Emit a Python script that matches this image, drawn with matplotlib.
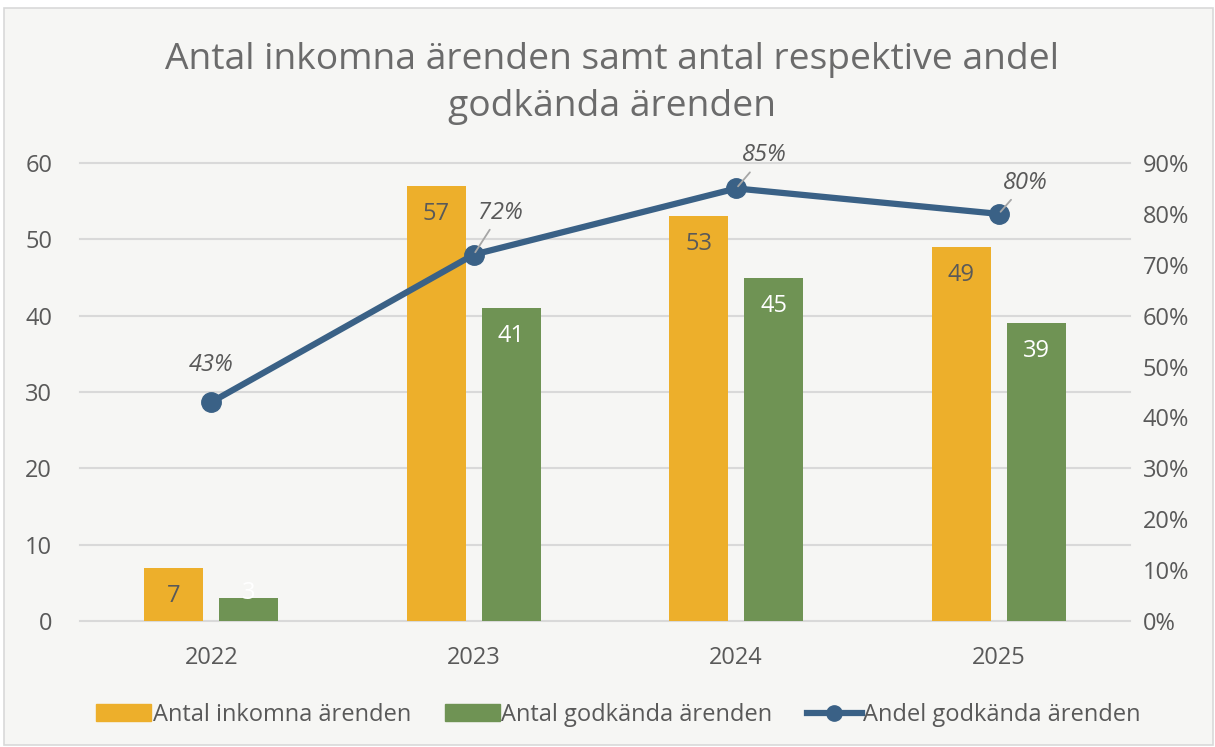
import numpy as np
import matplotlib
matplotlib.use("Agg")
import matplotlib.pyplot as plt
from matplotlib.patches import Rectangle, Patch
from matplotlib.lines import Line2D

# --- Datos ---------------------------------------------------------------
years = ["2022", "2023", "2024", "2025"]
inkomna = [7, 57, 53, 49]
godkanda = [3, 41, 45, 39]
andel = [0.43, 0.72, 0.85, 0.80]
andel_txt = ["43%", "72%", "85%", "80%"]
label_off = [(0, 37), (27, 42), (28, 33), (27, 31)]   # pixels, label vs point

c_gul = "#EDAF2B"
c_gron = "#6F9354"
c_linje = "#3A6186"
c_text = "#595959"
c_grid = "#D9D9D9"
fs = 17

plt.rcParams["font.family"] = ["Open Sans", "DejaVu Sans"]

fig = plt.figure(figsize=(12.15, 7.47), dpi=100, facecolor="white")
fig.patches.append(Rectangle((4 / 1215, 2 / 747), 1209 / 1215, 737 / 747,
                             transform=fig.transFigure, facecolor="#F6F6F4",
                             edgecolor=c_grid, lw=1.2, zorder=-10))

ax = fig.add_axes([80 / 1215, 126 / 747, 1050 / 1215, 458 / 747])
ax.set_facecolor("none")
x = np.arange(len(years))
w = 0.225
off = 0.143
b1 = ax.bar(x - off, inkomna, w, color=c_gul, zorder=3)
b2 = ax.bar(x + off, godkanda, w, color=c_gron, zorder=3)
for bars, vals, col in ((b1, inkomna, c_text), (b2, godkanda, "white")):
    for r, v in zip(bars, vals):
        dy = -28 if v >= 5 else 5   # short bar: label sits at the bar end
        ax.annotate(str(v), (r.get_x() + r.get_width() / 2, v), xytext=(0, dy),
                    textcoords="offset pixels", ha="center", va="center",
                    fontsize=fs, color=col, zorder=4)

ax.set_xlim(-0.5, 3.5)
ax.set_ylim(0, 60)
ax.set_yticks(range(0, 61, 10))
ax.set_xticks(x)
ax.set_xticklabels(years)
ax.yaxis.grid(True, color=c_grid, lw=1.5, zorder=0, clip_on=False)
for s in ax.spines.values():
    s.set_visible(False)
ax.tick_params(length=0, labelsize=fs, colors=c_text)
ax.tick_params(axis="y", pad=20)
ax.tick_params(axis="x", pad=18)

ax2 = ax.twinx()
ax2.set_ylim(0, 0.9)
ax2.set_yticks(np.arange(0, 0.91, 0.1))
ax2.set_yticklabels([f"{int(round(t * 100))}%" for t in np.arange(0, 0.91, 0.1)])
for s in ax2.spines.values():
    s.set_visible(False)
ax2.tick_params(length=0, labelsize=fs, colors=c_text, pad=9)
ax2.plot(x, andel, color=c_linje, lw=4.5, marker="o", markersize=14, zorder=5,
         clip_on=False)
for i, (v, t) in enumerate(zip(andel, andel_txt)):
    dx, dy = label_off[i]
    props = None if i == 0 else dict(arrowstyle="-", color="#A6A6A6", lw=1.3,
                                     shrinkA=2, shrinkB=2)
    ax2.annotate(t, (x[i], v), xytext=(dx, dy), textcoords="offset pixels",
                 ha="center", va="center", fontsize=fs, style="italic",
                 color=c_text, arrowprops=props, zorder=6)

fig.text(0.504, 0.888, "Antal inkomna ärenden samt antal respektive andel\ngodkända ärenden",
         ha="center", va="center", fontsize=26.8, color="#6B6B6B", linespacing=1.42)

handles = [Patch(color=c_gul), Patch(color=c_gron),
           Line2D([], [], color=c_linje, lw=4.5, marker="o", markersize=11)]
fig.legend(handles, ["Antal inkomna ärenden", "Antal godkända ärenden",
                     "Andel godkända ärenden"],
           loc="center", bbox_to_anchor=(0.509, 0.043), ncol=3, frameon=False,
           fontsize=fs, labelcolor=c_text, handlelength=2.33, handleheight=0.72,
           handletextpad=0.05, columnspacing=1.45)

fig.savefig("out.png", dpi=100, facecolor=fig.get_facecolor())
